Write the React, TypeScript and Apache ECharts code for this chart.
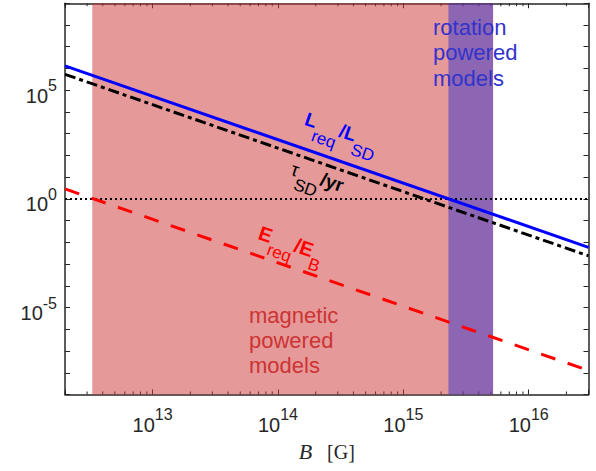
import React, { useEffect, useRef } from 'react';
import * as echarts from 'echarts';

// ---- data ----
const bRange = [2e12, 3e16];          // magnetic field B [G], x extent
const yRange = [1e-9, 1e9];           // ratio axis extent
const bEnds = [2e12, 3e16];           // B at the ends of each power-law curve
const lReqOverLsd = [1.32e6, 5.87e-3];
const tauSdOverYr = [5.38e5, 2.39e-3];
const eReqOverEb = [2.87, 1.27e-8];
const unity = [1, 1];
const magneticRange = [3.3e12, 5.2e15];
const rotationRange = [2.29e15, 5.2e15];
const xLabelExponents = [13, 14, 15, 16];
const yLabelExponents = [-5, 0, 5];
const minorMultipliers = [2, 3, 4, 5, 6, 7, 8, 9];
const minorDecades = [12, 13, 14, 15, 16];

const axisColor = '#262626';
const sans = 'Liberation Sans, Arial, Helvetica, sans-serif';
const serif = 'Liberation Serif, Times New Roman, serif';

const minorTicks: number[] = [];
minorDecades.forEach((d) =>
  minorMultipliers.forEach((m) => {
    const v = m * Math.pow(10, d);
    if (v >= bRange[0] && v <= bRange[1]) minorTicks.push(v);
  })
);

const pairs = (xs: number[], ys: number[]) => xs.map((x, i) => [x, ys[i]]);

const expLabel = (allowed: number[]) => (v: number) => {
  const l = Math.log10(v);
  const e = Math.round(l);
  if (Math.abs(l - e) > 1e-6 || !allowed.includes(e)) return '';
  return `{b|10}{s|${e}}`;
};

const labelRich = {
  b: { fontSize: 20, lineHeight: 36, fontFamily: sans, color: axisColor },
  s: { fontSize: 16, lineHeight: 19, verticalAlign: 'top', fontFamily: sans, color: axisColor },
};

const axisCommon = {
  type: 'log',
  logBase: 10,
  axisLine: { show: true, onZero: false, lineStyle: { color: axisColor, width: 1.5 } },
  axisTick: { show: true, inside: true, length: 5, lineStyle: { color: axisColor, width: 1 } },
  splitLine: { show: false },
  minorTick: { show: false },
  minorSplitLine: { show: false },
};

const regionSeries = (range: number[], fill: string) => ({
  type: 'custom',
  z: 2,
  silent: true,
  xAxisIndex: 0,
  yAxisIndex: 0,
  data: [[range[0], range[1], 1]],
  encode: { x: [0, 1], y: 2 },
  renderItem: (params: any, api: any) => {
    const x1 = api.coord([api.value(0), 1])[0];
    const x2 = api.coord([api.value(1), 1])[0];
    const cs = params.coordSys;
    return {
      type: 'rect',
      shape: { x: x1, y: cs.y, width: x2 - x1, height: cs.height },
      style: { fill },
    };
  },
});

const curveRich = (color: string, mainSize: number) => ({
  m: { fontSize: mainSize, fontWeight: 'bold', lineHeight: 22, verticalAlign: 'top', fontFamily: sans, fill: color },
  t: { fontSize: mainSize, fontWeight: 'normal', lineHeight: 22, verticalAlign: 'top', fontFamily: sans, fill: color },
  s: { fontSize: 17, fontWeight: 'normal', lineHeight: 47, fontFamily: sans, fill: color },
});

const ANGLE = -Math.atan((2 * 21.75) / 125.5);

const curveText = (x: number, y: number, text: string, color: string, size: number) => ({
  type: 'text',
  x,
  y,
  rotation: ANGLE,
  z: 100,
  silent: true,
  style: { text, fill: color, rich: curveRich(color, size), align: 'left', verticalAlign: 'top' },
});

const blockText = (x: number, y: number, text: string, color: string) => ({
  type: 'text',
  x,
  y,
  z: 100,
  silent: true,
  style: {
    text,
    fontFamily: sans,
    fontSize: 22,
    lineHeight: 25.4,
    fill: color,
    align: 'left',
    verticalAlign: 'top',
  },
});

export default function App() {
  const ref = useRef<HTMLDivElement>(null);
  useEffect(() => {
    if (!ref.current) return;
    const chart = echarts.init(ref.current, undefined, { renderer: 'svg' });
    const option: any = {
      animation: false,
      grid: { left: 65, right: 7.5, top: 3.25, bottom: 76.5, outerBoundsMode: 'none' },
      xAxis: [
        {
          ...axisCommon,
          position: 'bottom',
          min: bRange[0],
          max: bRange[1],
          axisLabel: {
            show: true,
            margin: 12,
            formatter: expLabel(xLabelExponents),
            rich: labelRich,
          },
          name: '{i|B}{r|[G]}',
          nameLocation: 'middle',
          nameGap: 47,
          nameTextStyle: {
            rich: {
              i: { fontFamily: serif, fontStyle: 'italic', fontSize: 22, lineHeight: 20, color: axisColor },
              r: { fontFamily: serif, fontSize: 20, lineHeight: 20, padding: [0, 0, 0, 15], color: axisColor },
            },
          },
        },
        {
          ...axisCommon,
          position: 'top',
          min: bRange[0],
          max: bRange[1],
          axisLabel: { show: false },
        },
      ],
      yAxis: [
        {
          ...axisCommon,
          position: 'left',
          min: yRange[0],
          max: yRange[1],
          interval: 1,
          axisLabel: {
            show: true,
            margin: 8,
            padding: [11, 0, 0, 0],
            formatter: expLabel(yLabelExponents),
            rich: labelRich,
          },
        },
        {
          ...axisCommon,
          position: 'right',
          min: yRange[0],
          max: yRange[1],
          interval: 1,
          axisLabel: { show: false },
        },
      ],
      series: [
        {
          type: 'custom',
          z: 1,
          silent: true,
          xAxisIndex: 0,
          yAxisIndex: 0,
          data: minorTicks.map((v) => [v, 1]),
          encode: { x: 0, y: 1 },
          renderItem: (params: any, api: any) => {
            const x = api.coord([api.value(0), 1])[0];
            const cs = params.coordSys;
            const st = { stroke: axisColor, lineWidth: 1 };
            return {
              type: 'group',
              children: [
                { type: 'line', shape: { x1: x, y1: cs.y + cs.height, x2: x, y2: cs.y + cs.height - 3 }, style: st },
                { type: 'line', shape: { x1: x, y1: cs.y, x2: x, y2: cs.y + 3 }, style: st },
              ],
            };
          },
        },
        regionSeries(magneticRange, 'rgba(204,51,51,0.5)'),
        regionSeries(rotationRange, 'rgba(51,51,204,0.5)'),
        {
          type: 'line',
          z: 3,
          silent: true,
          symbol: 'none',
          data: pairs(bEnds, unity),
          lineStyle: { color: '#000', width: 2, type: [2, 3] },
        },
        {
          type: 'line',
          z: 3,
          silent: true,
          symbol: 'none',
          data: pairs(bEnds, eReqOverEb),
          lineStyle: { color: '#ff0000', width: 3, type: [15, 13] },
        },
        {
          type: 'line',
          z: 3,
          silent: true,
          symbol: 'none',
          data: pairs(bEnds, tauSdOverYr),
          lineStyle: { color: '#000', width: 3, type: [11, 4, 4, 4] },
        },
        {
          type: 'line',
          z: 4,
          silent: true,
          symbol: 'none',
          data: pairs(bEnds, lReqOverLsd),
          lineStyle: { color: '#0000ff', width: 3 },
        },
      ],
      graphic: [
        curveText(308.8, 109.4, '{m|L}{s|req}{m|/L}{s|SD}', '#0000ff', 19),
        curveText(294.8, 159.4, '{t|τ}{s|SD}{m|/yr}', '#000000', 19),
        curveText(262.6, 222.6, '{m|E}{s|req}{m|/E}{s|B}', '#ff0000', 20),
        blockText(249, 302.4, 'magnetic\npowered\nmodels', '#cc3333'),
        blockText(433, 14.8, 'rotation\npowered\nmodels', '#3333cc'),
      ],
    };
    chart.setOption(option);
    return () => chart.dispose();
  }, []);
  return (
    <div
      ref={ref}
      style={{ position: 'absolute', left: 0, top: 0, width: 596, height: 471, background: '#fff' }}
    />
  );
}
